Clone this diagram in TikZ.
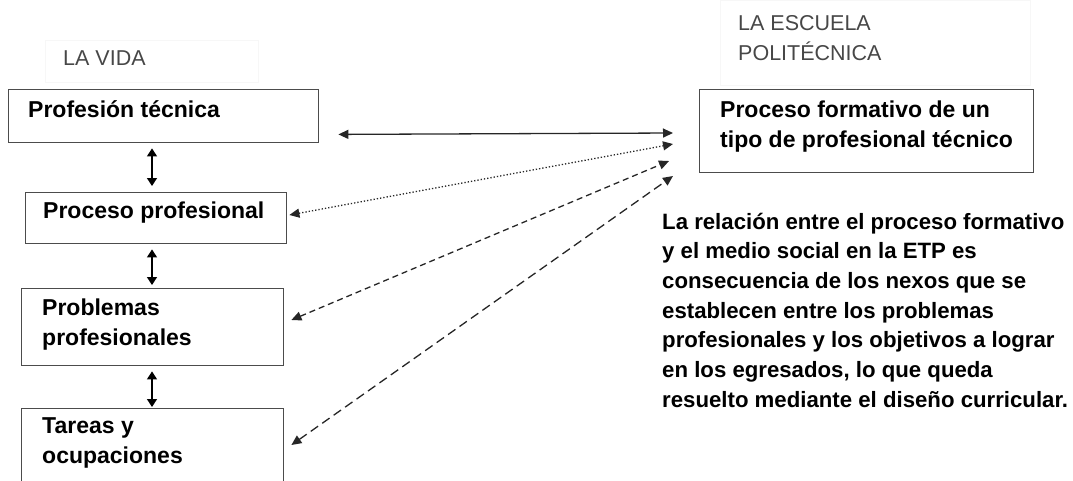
\documentclass[tikz,border=0pt]{standalone}
\usepackage{fontspec}
\setmainfont{Liberation Sans}
\usetikzlibrary{arrows.meta,calc}
\begin{document}
\begin{tikzpicture}[x=1pt,y=-1pt,
  box/.style={draw=black!70,line width=1.4pt,anchor=north west,inner sep=0pt,minimum width=#1},
  boxtext/.style={anchor=base west,inner sep=0pt,font=\fontsize{23}{30}\selectfont\bfseries,align=left},
  para/.style={anchor=base west,inner sep=0pt,font=\fontsize{22.2}{29.7}\selectfont\bfseries,align=left},
  title/.style={anchor=base west,inner sep=0pt,font=\fontsize{21.5}{29}\selectfont,text=black!72,align=left},
  faint/.style={draw=black!3,line width=0.6pt,anchor=north west,inner sep=0pt},
  conn/.style={line width=1.3pt,black!85,{Triangle[length=10pt,width=9pt]}-{Triangle[length=10pt,width=9pt]}},
  vconn/.style={line width=1.3pt,black,{Triangle[length=8pt,width=10pt]}-{Triangle[length=8pt,width=10pt]}}
]
\useasboundingbox (0,0) rectangle (1073,480);
\clip (0,0) rectangle (1073,480);

% faint label backgrounds
\node[faint,minimum width=213pt,minimum height=42pt] (fv) at (45,40) {};
\node[faint,minimum width=310pt,minimum height=85pt] (fe) at (720,0) {};

% titles
\node[title] (lavida) at (63,65) {LA VIDA};
\node[title] (escuela) at (738,30) {LA ESCUELA};
\node[title] (poli) at (738,60) {POLITÉCNICA};

% left boxes
\node[box=310pt,minimum height=53pt] (b1) at (8,89) {};
\node[box=261pt,minimum height=51pt] (b2) at (25,192) {};
\node[box=262pt,minimum height=77pt] (b3) at (21,288) {};
\node[box=262pt,minimum height=90pt] (b4) at (21,408) {};

\node[boxtext] (t1) at ($(b1.north west)+(20,28)$) {Profesión técnica};
\node[boxtext] (t2) at ($(b2.north west)+(18,26)$) {Proceso profesional};
\node[boxtext] (t3a) at ($(b3.north west)+(21,27)$) {Problemas};
\node[boxtext] (t3b) at ($(b3.north west)+(21,57)$) {profesionales};
\node[boxtext] (t4a) at ($(b4.north west)+(21,25)$) {Tareas y};
\node[boxtext] (t4b) at ($(b4.north west)+(21,55)$) {ocupaciones};

% right box
\node[box=334pt,minimum height=83pt] (r) at (699,89) {};
\node[boxtext] (tr1) at ($(r.north west)+(21,28)$) {Proceso formativo de un};
\node[boxtext] (tr2) at ($(r.north west)+(21,58)$) {tipo de profesional técnico};

% paragraph
\node[para] (p1) at (662,229) {La relación entre el proceso formativo};
\node[para] (p2) at (662,258.7) {y el medio social en la ETP es};
\node[para] (p3) at (662,288.4) {consecuencia de los nexos que se};
\node[para] (p4) at (662,318.1) {establecen entre los problemas};
\node[para] (p5) at (662,347.8) {profesionales y los objetivos a lograr};
\node[para] (p6) at (662,377.5) {en los egresados, lo que queda};
\node[para] (p7) at (662,407.2) {resuelto mediante el diseño curricular.};

% vertical double arrows
\coordinate (cx) at (152,0);
\draw[vconn,shorten <=5pt,shorten >=6pt] (b1.south -| cx) -- (b2.north -| cx);
\draw[vconn,shorten <=5pt,shorten >=3pt] (b2.south -| cx) -- (b3.north -| cx);
\draw[vconn,shorten <=5pt,shorten >=1pt] (b3.south -| cx) -- (b4.north -| cx);

% connectors to the school
\draw[conn] ($(b1.south east)+(19,-9)$) -- ($(r.north west)+(-26,44)$);
\draw[conn,dotted] ($(b2.north east)+(2,23)$) -- ($(r.north west)+(-26,55)$);
\draw[conn,dash pattern=on 6pt off 4pt] ($(b3.north east)+(7,32)$) -- ($(r.north west)+(-30,72)$);
\draw[conn,dash pattern=on 9pt off 5pt] ($(b4.north east)+(7,37)$) -- ($(r.north west)+(-26,87)$);
\end{tikzpicture}
\end{document}
